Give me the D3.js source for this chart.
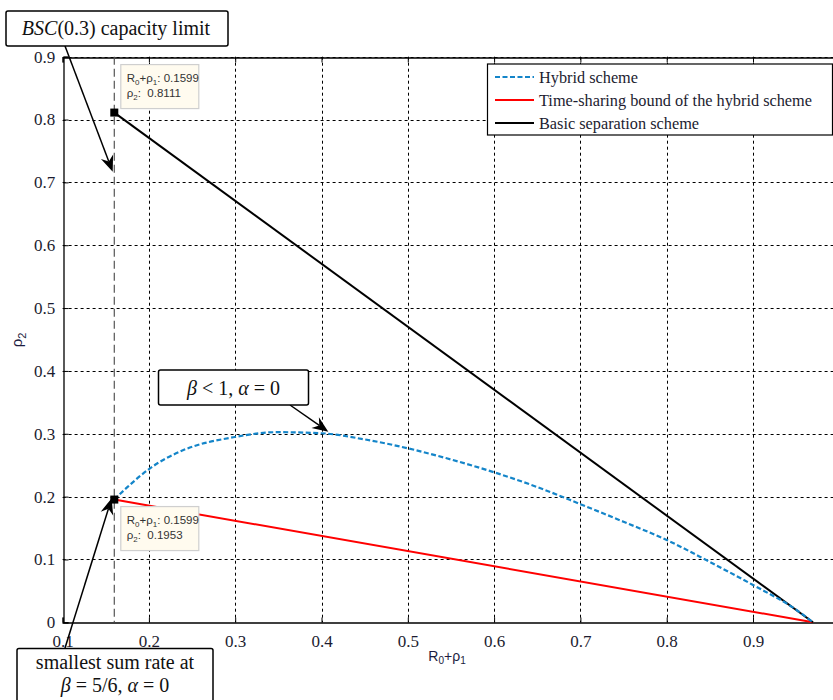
<!DOCTYPE html>
<html><head><meta charset="utf-8">
<script src="https://cdn.jsdelivr.net/npm/d3@7"></script>
<style>html,body{margin:0;padding:0;background:#fff;}svg{display:block;}</style>
</head><body>
<script>
const xTicks = [0.1,0.2,0.3,0.4,0.5,0.6,0.7,0.8,0.9];
const yTicks = [0,0.1,0.2,0.3,0.4,0.5,0.6,0.7,0.8,0.9];
const xTickLabels = ["0.1","0.2","0.3","0.4","0.5","0.6","0.7","0.8","0.9"];
const yTickLabels = ["0","0.1","0.2","0.3","0.4","0.5","0.6","0.7","0.8","0.9"];
const hybridX = [0.1599,0.175,0.2013,0.24,0.2978,0.348,0.40,0.45,0.50,0.545,0.60,0.65,0.70,0.75,0.80,0.85,0.90,0.95,0.9695];
const hybridY = [0.1953,0.215,0.245,0.274,0.2944,0.3025,0.3008,0.291,0.2769,0.261,0.2387,0.2152,0.1880,0.160,0.131,0.096,0.0594,0.020,0];
const timeShareX = [0.1599,0.9695];
const timeShareY = [0.1953,0];
const separationX = [0.1599,0.9695];
const separationY = [0.8111,0];
const seriesNames = ["Hybrid scheme","Time-sharing bound of the hybrid scheme","Basic separation scheme"];
const capacityX = 0.1599;
const tipTop = {x:0.1599, y:0.8111};
const tipBottom = {x:0.1599, y:0.1953};

const W=833,H=700;
const svg=d3.select("body").append("svg").attr("width",W).attr("height",H);
const x=d3.scaleLinear().domain([0.1,1.0]).range([62.6,839.3]);
const y=d3.scaleLinear().domain([0,0.9]).range([622.3,56.7]);
const L=62.6, R=839.3, T=56.7, B=622.3;
const serif="'Liberation Serif','Times New Roman',serif";
const sans="'Liberation Sans',Arial,sans-serif";

// grid
const grid=svg.append("g").attr("stroke","#000").attr("stroke-width",1).attr("stroke-dasharray","3,3");
xTicks.filter(v=>v>0.1).forEach(v=>grid.append("line").attr("x1",Math.round(x(v))+0.5).attr("x2",Math.round(x(v))+0.5).attr("y1",T).attr("y2",B));
yTicks.filter(v=>v>0).forEach(v=>grid.append("line").attr("y1",Math.round(y(v))+0.5).attr("y2",Math.round(y(v))+0.5).attr("x1",L).attr("x2",R));

// axes (MATLAB style, ticks inward)
const xAxisB=d3.axisBottom(x).tickValues(xTicks).tickSize(-5).tickPadding(9).tickFormat((d,i)=>xTickLabels[i]);
const xAxisT=d3.axisTop(x).tickValues(xTicks).tickSize(-5).tickFormat("");
const yAxisL=d3.axisLeft(y).tickValues(yTicks).tickSize(-5).tickPadding(9).tickFormat((d,i)=>yTickLabels[i]);
const gB=svg.append("g").attr("transform",`translate(0,${Math.round(B)+0.5})`).call(xAxisB);
const gT=svg.append("g").attr("transform",`translate(0,${Math.round(T)+0.5})`).call(xAxisT);
const gL=svg.append("g").attr("transform",`translate(${Math.round(L)+0.5},0)`).call(yAxisL);
[gB,gT,gL].forEach(g=>{
  g.attr("font-family",null).attr("font-size",null);
  g.select(".domain").attr("stroke","#000").attr("stroke-width",1.3);
  g.selectAll(".tick line").attr("stroke","#000");
  g.selectAll("text").style("font-family",serif).style("font-size","17px").attr("fill","#1c1c30");
});
gB.selectAll(".tick text").attr("dy","0.9em");
gL.selectAll(".tick text").attr("dx","0.05em");

// vertical capacity line
svg.append("line").attr("x1",x(capacityX)).attr("x2",x(capacityX)).attr("y1",T).attr("y2",B)
  .attr("stroke","#555").attr("stroke-width",1.2).attr("stroke-dasharray","8,4");

const line=d3.line().x(d=>x(d[0])).y(d=>y(d[1]));
svg.append("path").attr("d",line(d3.zip(timeShareX,timeShareY))).attr("fill","none").attr("stroke","#ff0000").attr("stroke-width",2);
svg.append("path").attr("d",line(d3.zip(separationX,separationY))).attr("fill","none").attr("stroke","#000").attr("stroke-width",2);
svg.append("path").attr("d",d3.line().curve(d3.curveMonotoneX).x(d=>x(d[0])).y(d=>y(d[1]))(d3.zip(hybridX,hybridY)))
  .attr("fill","none").attr("stroke","#1485c9").attr("stroke-width",2.2).attr("stroke-dasharray","5,2.5");

// datatip markers
[tipTop,tipBottom].forEach(p=>{
  svg.append("rect").attr("x",x(p.x)-4).attr("y",y(p.y)-4).attr("width",8).attr("height",8).attr("fill","#000");
});
function datatip(p, bx, by){
  const g=svg.append("g");
  g.append("rect").attr("x",bx).attr("y",by).attr("width",78).attr("height",44)
   .attr("fill","#fffbef").attr("stroke","#cfcfcf").attr("stroke-width",1.2);
  const t1=g.append("text").attr("x",bx+6).attr("y",by+17).attr("font-family",sans).attr("font-size",11.5).attr("fill","#333");
  t1.append("tspan").text("R");
  t1.append("tspan").attr("font-size",8).attr("dy",3).text("0");
  t1.append("tspan").attr("dy",-3).text("+ρ");
  t1.append("tspan").attr("font-size",8).attr("dy",3).text("1");
  t1.append("tspan").attr("dy",-3).text(": "+p.x.toFixed(4));
  const t2=g.append("text").attr("x",bx+6).attr("y",by+32).attr("font-family",sans).attr("font-size",11.5).attr("fill","#333");
  t2.append("tspan").text("ρ");
  t2.append("tspan").attr("font-size",8).attr("dy",3).text("2");
  t2.append("tspan").attr("dy",-3).attr("xml:space","preserve").text(":  "+p.y.toFixed(4));
}
datatip(tipTop, x(tipTop.x)+6.5, y(tipTop.y)-48);
datatip(tipBottom, x(tipBottom.x)+6.5, y(tipBottom.y)+7);

// legend
const lg=svg.append("g");
lg.append("rect").attr("x",487.5).attr("y",64).attr("width",345).attr("height",71).attr("fill","#fff").attr("stroke","#000").attr("stroke-width",1.2);
const lstyles=[{c:"#1485c9",d:"5,2.5"},{c:"#ff0000",d:null},{c:"#000",d:null}];
seriesNames.forEach((n,i)=>{
  const yy=77+i*23;
  const l=lg.append("line").attr("x1",495).attr("x2",534).attr("y1",yy).attr("y2",yy).attr("stroke",lstyles[i].c).attr("stroke-width",2);
  if(lstyles[i].d) l.attr("stroke-dasharray",lstyles[i].d);
  lg.append("text").attr("x",539).attr("y",yy+5.5).attr("font-family",serif).attr("font-size",16.3).attr("fill","#1c1c30").text(n);
});

// axis labels
const xl=svg.append("text").attr("x",447).attr("y",661).attr("text-anchor","middle").attr("font-family",sans).attr("font-size",14).attr("fill","#1c1c40");
xl.append("tspan").text("R");
xl.append("tspan").attr("font-size",10).attr("dy",3).text("0");
xl.append("tspan").attr("dy",-3).text("+ρ");
xl.append("tspan").attr("font-size",10).attr("dy",3).text("1");
const yl=svg.append("text").attr("transform","translate(22,340) rotate(-90)").attr("text-anchor","middle").attr("font-family",sans).attr("font-size",15).attr("fill","#1c1c40");
yl.append("tspan").text("ρ");
yl.append("tspan").attr("font-size",11).attr("dy",4).text("2");

// annotations
function arrow(x1,y1,x2,y2){
  const ang=Math.atan2(y2-y1,x2-x1), hl=16, hw=6.5, back=11;
  const ux=Math.cos(ang), uy=Math.sin(ang), px=-uy, py=ux;
  svg.append("line").attr("x1",x1).attr("y1",y1).attr("x2",x2-ux*back).attr("y2",y2-uy*back).attr("stroke","#000").attr("stroke-width",1.5);
  const pts=[[x2,y2],[x2-ux*hl+px*hw,y2-uy*hl+py*hw],[x2-ux*back,y2-uy*back],[x2-ux*hl-px*hw,y2-uy*hl-py*hw]];
  svg.append("path").attr("d","M"+pts.map(p=>p.join(",")).join("L")+"Z").attr("fill","#000");
}
function box(x0,y0,w,h){
  svg.append("rect").attr("x",x0).attr("y",y0).attr("width",w).attr("height",h).attr("rx",2)
   .attr("fill","#fff").attr("stroke","#000").attr("stroke-width",1.5);
}
const afs=20;
arrow(65,46,112.7,171.7);
box(6,11,222,35);
const a1=svg.append("text").attr("x",116).attr("y",35).attr("text-anchor","middle").attr("font-family",serif).attr("font-size",afs).attr("fill","#111");
a1.append("tspan").attr("font-style","italic").text("BSC");
a1.append("tspan").text("(0.3) capacity limit");

arrow(290,405,328.3,431.7);
box(158.5,370,150,35);
const a2=svg.append("text").attr("x",233.5).attr("y",394.5).attr("text-anchor","middle").attr("font-family",serif).attr("font-size",afs).attr("fill","#111");
a2.append("tspan").attr("font-style","italic").text("β");
a2.append("tspan").attr("xml:space","preserve").text(" < 1, ");
a2.append("tspan").attr("font-style","italic").text("α");
a2.append("tspan").attr("xml:space","preserve").text(" = 0");

arrow(65,648,111.7,498.3);
box(17,648.5,196,60);
svg.append("text").attr("x",115).attr("y",669).attr("text-anchor","middle").attr("font-family",serif).attr("font-size",afs).attr("fill","#111").text("smallest sum rate at");
const a3=svg.append("text").attr("x",115).attr("y",692).attr("text-anchor","middle").attr("font-family",serif).attr("font-size",afs).attr("fill","#111");
a3.append("tspan").attr("font-style","italic").text("β");
a3.append("tspan").attr("xml:space","preserve").text(" = 5/6, ");
a3.append("tspan").attr("font-style","italic").text("α");
a3.append("tspan").attr("xml:space","preserve").text(" = 0");
</script>
</body></html>
